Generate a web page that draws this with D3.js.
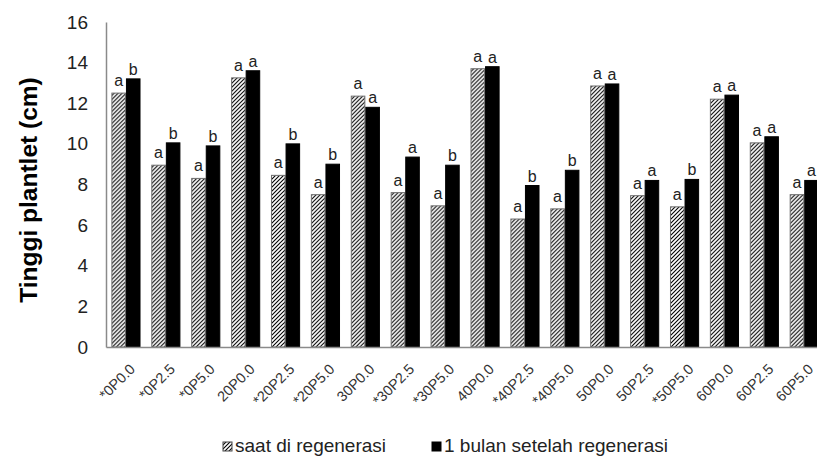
<!DOCTYPE html>
<html>
<head>
<meta charset="utf-8">
<script src="https://cdn.jsdelivr.net/npm/d3@7"></script>
<style>
  html, body { margin: 0; padding: 0; background: #fff; }
  svg { display: block; font-family: Arial, "Liberation Sans", sans-serif; }
</style>
</head>
<body>
<svg id="chart" width="817" height="461"></svg>
<script>
// Treatment codes along the x axis
const categories = ["*0P0.0", "*0P2.5", "*0P5.0", "20P0.0", "*20P2.5", "*20P5.0",
  "30P0.0", "*30P2.5", "*30P5.0", "40P0.0", "*40P2.5", "*40P5.0",
  "50P0.0", "50P2.5", "*50P5.0", "60P0.0", "60P2.5", "60P5.0"];

const seriesNames = ["saat di regenerasi", "1 bulan setelah regenerasi"];

// Plantlet height (cm) at regeneration
const atRegeneration = [12.5, 8.95, 8.3, 13.25, 8.45, 7.5, 12.35, 7.6, 6.95,
  13.7, 6.3, 6.8, 12.85, 7.45, 6.9, 12.2, 10.05, 7.5];
// Plantlet height (cm) one month after regeneration
const oneMonthAfter = [13.2, 10.05, 9.9, 13.6, 10.0, 9.0, 11.8, 9.35, 8.95,
  13.8, 7.95, 8.7, 12.95, 8.2, 8.25, 12.4, 10.35, 8.2];

// Significance letters above each bar
const lettersAt = ["a","a","a","a","a","a","a","a","a","a","a","a","a","a","a","a","a","a"];
const lettersAfter = ["b","b","b","a","b","b","a","a","b","a","b","b","a","a","b","a","a","a"];

const yTicks = [0, 2, 4, 6, 8, 10, 12, 14, 16];
const yTitle = "Tinggi plantlet (cm)";

const svg = d3.select("#chart");

const plotLeft = 106, plotTop = 22, plotBottom = 347;
const step = 39.9;
const plotRight = plotLeft + step * categories.length;

// Diagonal hatch for the first series
const defs = svg.append("defs");
const pat = defs.append("pattern")
  .attr("id", "hatch")
  .attr("patternUnits", "userSpaceOnUse")
  .attr("width", 4).attr("height", 4);
pat.append("rect").attr("width", 4).attr("height", 4).attr("fill", "#fff");
pat.append("path")
  .attr("d", "M-1,1 l2,-2 M0,4 l4,-4 M3,5 l2,-2")
  .attr("stroke", "#000").attr("stroke-width", 1.1);

const x0 = d3.scaleBand()
  .domain(categories)
  .range([plotLeft, plotRight])
  .paddingInner(0.27)
  .paddingOuter(0.135);

const x1 = d3.scaleBand()
  .domain([0, 1])
  .range([0, x0.bandwidth()]);

const y = d3.scaleLinear().domain([0, 16]).range([plotBottom, plotTop]);

const rows = categories.map((c, i) => ({
  cat: c,
  vals: [
    { s: 0, v: atRegeneration[i], letter: lettersAt[i] },
    { s: 1, v: oneMonthAfter[i], letter: lettersAfter[i] }
  ]
}));

// Bars
const groups = svg.append("g").selectAll("g")
  .data(rows).join("g")
  .attr("transform", d => `translate(${x0(d.cat)},0)`);

groups.selectAll("rect")
  .data(d => d.vals).join("rect")
  .attr("x", d => x1(d.s) + 0.5)
  .attr("y", d => y(d.v))
  .attr("width", x1.bandwidth() - 1)
  .attr("height", d => y(0) - y(d.v))
  .attr("fill", d => d.s === 0 ? "url(#hatch)" : "#000")
  .attr("stroke", d => d.s === 0 ? "#6e6e6e" : "#000")
  .attr("stroke-width", 1);

// Significance letters
groups.selectAll("text")
  .data(d => d.vals).join("text")
  .attr("x", d => x1(d.s) + x1.bandwidth() / 2)
  .attr("y", d => y(d.v) - (d.s === 0 ? 7 : 4))
  .attr("text-anchor", "middle")
  .attr("font-size", 16)
  .attr("fill", "#222")
  .text(d => d.letter);

// Axes
const yAxis = d3.axisLeft(y).tickValues(yTicks).tickSize(0).tickPadding(18);
const gy = svg.append("g").attr("transform", `translate(${plotLeft},0)`).call(yAxis);
gy.select(".domain").attr("stroke", "#8a8a8a").attr("stroke-width", 1.5);
gy.selectAll("text").attr("font-size", 19).attr("fill", "#222")
  .attr("font-family", "Arial, 'Liberation Sans', sans-serif");

const xAxis = d3.axisBottom(x0).tickSize(0).tickPadding(0);
const gx = svg.append("g").attr("transform", `translate(0,${plotBottom})`).call(xAxis);
gx.select(".domain").attr("stroke", "#8a8a8a").attr("stroke-width", 1.5);
gx.selectAll("text")
  .attr("font-size", 14.5)
  .attr("fill", "#333")
  .attr("font-family", "Arial, 'Liberation Sans', sans-serif")
  .attr("text-anchor", "end")
  .attr("dy", null)
  .attr("y", null)
  .attr("transform", "translate(10,23) rotate(-45)");

// Y-axis title
svg.append("text")
  .attr("transform", "translate(37,190) rotate(-90)")
  .attr("text-anchor", "middle")
  .attr("font-size", 24.5)
  .attr("font-weight", "bold")
  .attr("fill", "#000")
  .text(yTitle);

// Legend
const legend = svg.append("g").attr("transform", "translate(0,452)");
const legendItems = [
  { name: seriesNames[0], x: 223, fill: "url(#hatch)", stroke: "#444" },
  { name: seriesNames[1], x: 432, fill: "#000", stroke: "#000" }
];
legendItems.forEach(it => {
  legend.append("rect")
    .attr("x", it.x).attr("y", -10)
    .attr("width", 9).attr("height", 9)
    .attr("fill", it.fill).attr("stroke", it.stroke).attr("stroke-width", 1);
  legend.append("text")
    .attr("x", it.x + 12).attr("y", 0)
    .attr("font-size", 19)
    .attr("fill", "#222")
    .text(it.name);
});
</script>
</body>
</html>
